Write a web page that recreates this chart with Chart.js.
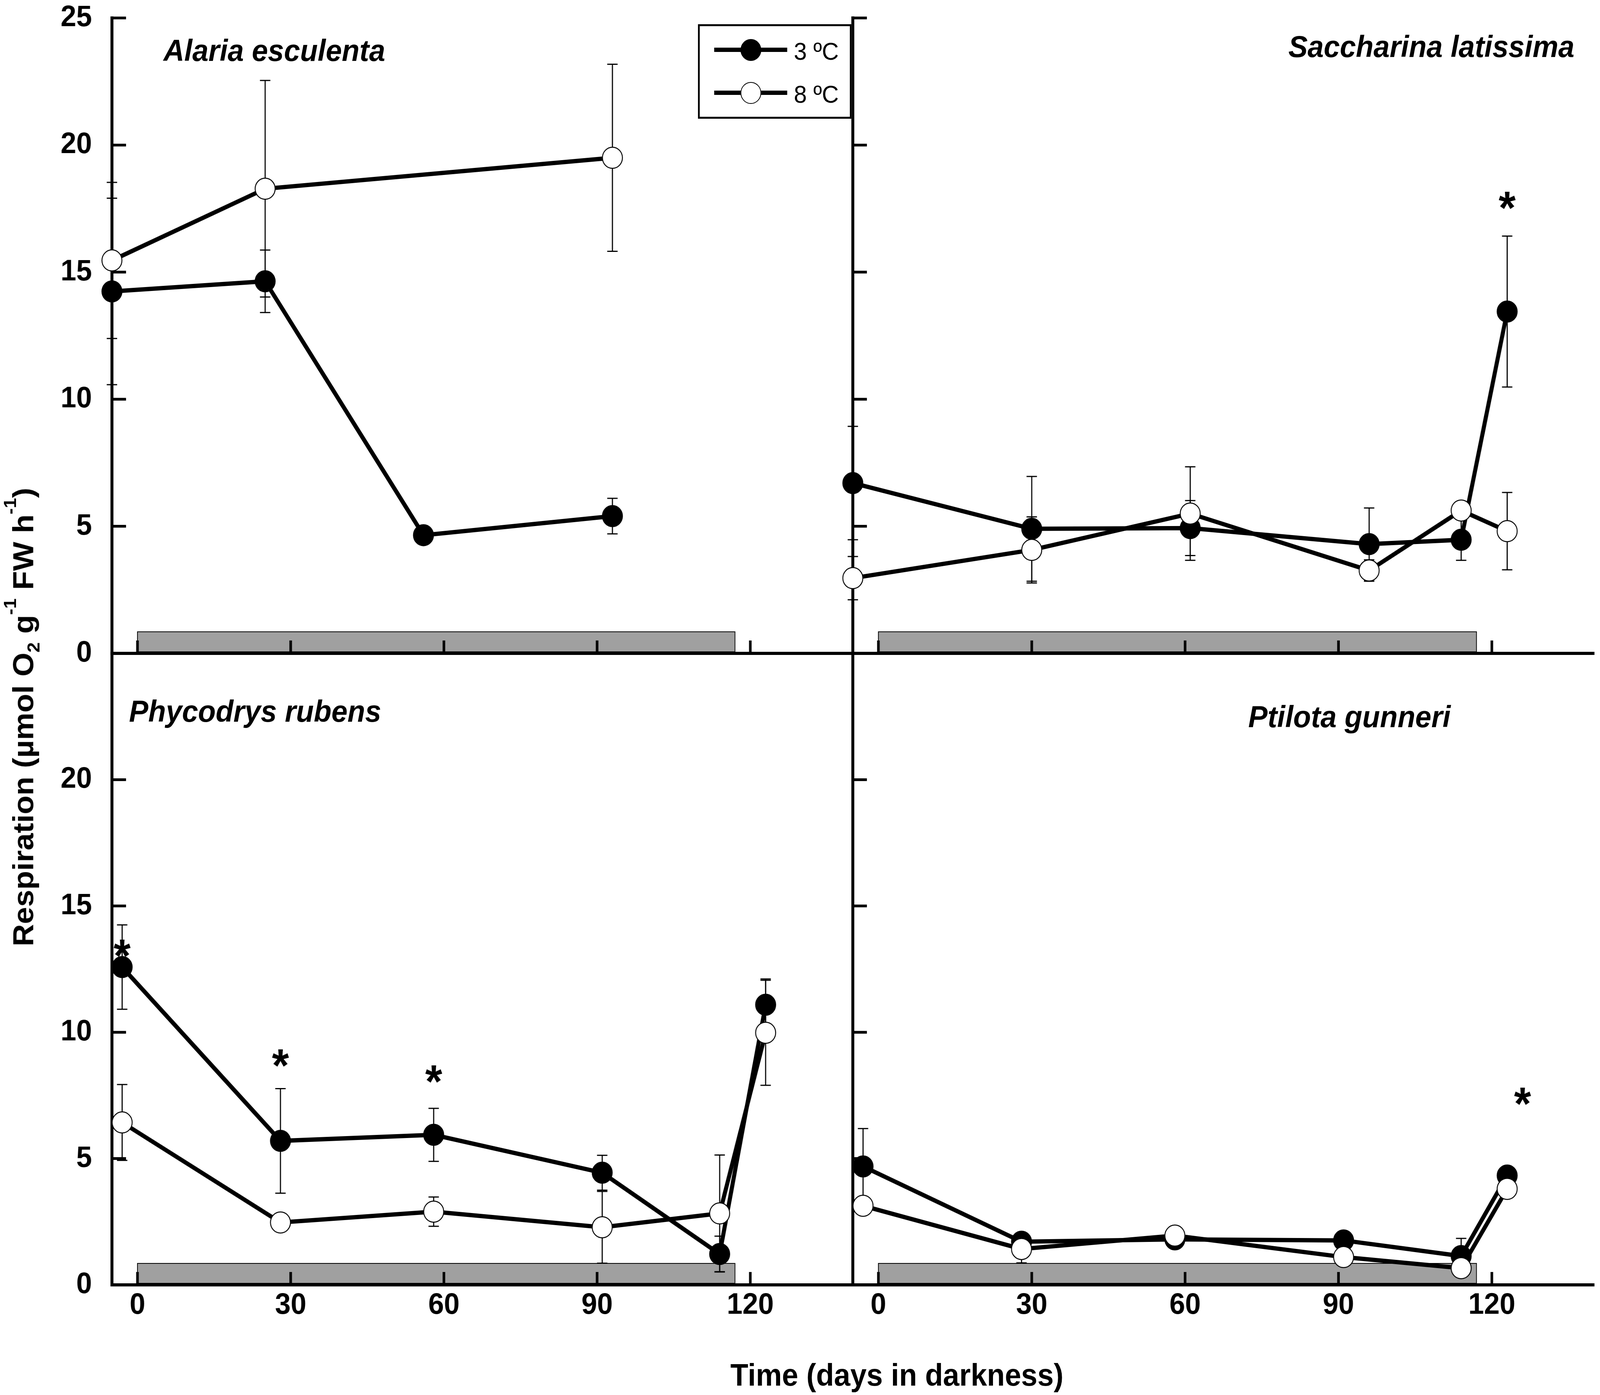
<!DOCTYPE html>
<html>
<head>
<meta charset="utf-8">
<script src="https://cdn.jsdelivr.net/npm/chart.js"></script>
<style>
  html, body { margin: 0; padding: 0; background: #fff; overflow: hidden; }
  #page { position: relative; width: 4317px; height: 3572px; overflow: hidden; transform-origin: 0 0;
          font-family: 'Liberation Sans', Arial, sans-serif; color: #000; }
  canvas { position: absolute; }
  .species { position: absolute; font-weight: bold; font-style: italic; font-size: 78px;
             line-height: 78px; white-space: nowrap; z-index: 3; }
  .axis-title { position: absolute; font-weight: bold; font-size: 79px; line-height: 79px;
                white-space: nowrap; z-index: 3; }
  .sup { font-size: 0.6em; position: relative; top: -1em; }
  .sub { font-size: 0.6em; position: relative; top: 0.35em; }
  #legend { position: absolute; left: 1883px; top: 62px; width: 415px; height: 242px;
            box-sizing: border-box; border: 5px solid #000; background: #fff; z-index: 4; }
  .lg-line { position: absolute; left: 39px; width: 197px; height: 11px; background: #000; }
  .lg-dot { position: absolute; left: 110px; width: 56px; height: 56px; box-sizing: border-box;
            border: 2.5px solid #000; border-radius: 50%; }
  .lg-text { position: absolute; left: 254px; font-size: 63px; line-height: 63px; white-space: nowrap; }
</style>
</head>
<body>
<div id="page">
  <canvas id="cAlaria" width="2340" height="1720" style="left:0px;top:0px;width:2340px;height:1720px"></canvas>
  <canvas id="cSacch" width="2057" height="1720" style="left:2260px;top:0px;width:2057px;height:1720px"></canvas>
  <canvas id="cPhyco" width="2340" height="1942" style="left:0px;top:1630px;width:2340px;height:1942px"></canvas>
  <canvas id="cPtilo" width="2057" height="1942" style="left:2260px;top:1630px;width:2057px;height:1942px"></canvas>

  <div class="species" style="left:441px;top:90px">Alaria esculenta</div>
  <div class="species" style="right:69px;top:80px">Saccharina latissima</div>
  <div class="species" style="left:348px;top:1782px">Phycodrys rubens</div>
  <div class="species" style="left:3368px;top:1796px">Ptilota gunneri</div>

  <div class="axis-title" style="left:68px;top:1836px;transform:translate(-50%,-50%) rotate(-90deg)">Respiration (µmol O<span class="sub">2</span> g<span class="sup">-1</span> FW h<span class="sup">-1</span>)</div>
  <div class="axis-title" style="left:2420px;top:3481px;transform:translateX(-50%)">Time (days in darkness)</div>

  <div id="legend">
    <div class="lg-line" style="top:55px"></div>
    <div class="lg-dot" style="top:33px;background:#000"></div>
    <div class="lg-text" style="top:33px">3 ºC</div>
    <div class="lg-line" style="top:165px"></div>
    <div class="lg-dot" style="top:143px;background:#fff"></div>
    <div class="lg-text" style="top:143px">8 ºC</div>
  </div>
</div>

<script>
// Respiration in darkness, four algae, two temperatures

// the page is laid out at 4317x3572; fit it to whatever viewport we get
const PAGE_W = 4317, PAGE_H = 3572;
const pageEl = document.getElementById("page");
pageEl.style.transform = `scale(${window.innerWidth / PAGE_W}, ${window.innerHeight / PAGE_H})`;

const X_MIN = -5, X_MAX = 140;
const Y_MIN = 0, Y_MAX = 25;
const X_TICKS = [0, 30, 60, 90, 120];
const Y_TICKS = [0, 5, 10, 15, 20, 25];

// grey bar = darkness period
const DARK_FROM = 0, DARK_TO = 117, DARK_TOP = 0.85;

// Alaria esculenta
const alariaDays3 = [-5, 25, 56, 93];
const alaria3 = [14.24, 14.64, 4.65, 5.4];
const alaria3Err = [3.67, 1.23, 0, 0.7];
const alariaDays8 = [-5, 25, 93];
const alaria8 = [15.46, 18.28, 19.5];
const alaria8Err = [3.07, 4.26, 3.68];
const alariaStars = [];

// Saccharina latissima
const sacchDays = [-5, 30, 61, 96, 114, 123];
const sacch3 = [6.70, 4.90, 4.93, 4.30, 4.47, 13.45];
const sacch3Err = [2.23, 2.06, 1.08, 1.42, 0.81, 2.97];
const sacch8 = [2.96, 4.07, 5.50, 3.26, 5.62, 4.81];
const sacch8Err = [0.85, 1.3, 1.84, 0.42, 0, 1.52];
const sacchStars = [[123, 17.95]];

// Phycodrys rubens
const phycoDays = [-3, 28, 58, 91, 114, 123];
const phyco3 = [12.58, 5.70, 5.94, 4.44, 1.22, 11.09];
const phyco3Err = [1.67, 2.07, 1.05, 0.69, 0.71, 1.02];
const phyco8 = [6.43, 2.47, 2.90, 2.28, 2.83, 9.98];
const phyco8Err = [1.5, 0, 0.58, 1.42, 2.31, 2.08];
const phycoStars = [[-3, 13.46], [28, 9.12], [58, 8.48]];

// Ptilota gunneri
const ptiloDays = [-3, 28, 58, 91, 114, 123];
const ptilo3 = [4.69, 1.71, 1.80, 1.76, 1.14, 4.33];
const ptilo3Err = [1.5, 0, 0, 0, 0.7, 0];
const ptilo8 = [3.13, 1.42, 1.95, 1.10, 0.66, 3.80];
const ptilo8Err = [0, 0.55, 0, 0, 0, 0];
const ptiloStars = [[126, 7.6]];

const FONT = "'Liberation Sans', Arial, sans-serif";
const AXIS_W = 8;

// dark bar, inward ticks, error bars (behind the markers), asterisks on top
const panelDecor = {
  id: "panelDecor",
  beforeDatasetsDraw(chart) {
    const { ctx, chartArea: a, scales: { x, y } } = chart;
    ctx.save();

    const bx0 = x.getPixelForValue(DARK_FROM);
    const bx1 = x.getPixelForValue(DARK_TO);
    const by0 = y.getPixelForValue(DARK_TOP);
    const by1 = y.getPixelForValue(0) - AXIS_W / 2;
    ctx.fillStyle = "#a0a0a0";
    ctx.fillRect(bx0, by0, bx1 - bx0, by1 - by0);
    ctx.strokeStyle = "#000";
    ctx.lineWidth = 2;
    ctx.strokeRect(bx0, by0, bx1 - bx0, by1 - by0);

    ctx.lineWidth = 7;
    ctx.beginPath();
    X_TICKS.forEach((v) => {
      const px = x.getPixelForValue(v);
      ctx.moveTo(px, a.bottom);
      ctx.lineTo(px, a.bottom - 33);
    });
    Y_TICKS.forEach((v) => {
      const py = y.getPixelForValue(v);
      ctx.moveTo(a.left, py);
      ctx.lineTo(a.left + 38, py);
    });
    ctx.stroke();

    ctx.lineWidth = 3;
    chart.data.datasets.forEach((ds) => {
      ds.data.forEach((p, i) => {
        const e = ds.errors[i];
        if (!e) return;
        const px = x.getPixelForValue(p.x);
        const top = y.getPixelForValue(p.y + e);
        const bot = y.getPixelForValue(p.y - e);
        ctx.beginPath();
        ctx.moveTo(px, top); ctx.lineTo(px, bot);
        ctx.moveTo(px - 14, top); ctx.lineTo(px + 14, top);
        ctx.moveTo(px - 14, bot); ctx.lineTo(px + 14, bot);
        ctx.stroke();
      });
    });
    ctx.restore();
  },
  afterDatasetsDraw(chart, args, opts) {
    const { ctx, scales: { x, y } } = chart;
    const size = 118;
    ctx.save();
    ctx.fillStyle = "#000";
    ctx.font = `bold ${size}px ${FONT}`;
    ctx.textAlign = "center";
    ctx.textBaseline = "alphabetic";
    (opts.stars || []).forEach(([sx, sy]) => {
      ctx.fillText("*", x.getPixelForValue(sx), y.getPixelForValue(sy) + 0.58 * size);
    });
    ctx.restore();
  }
};

function series(days, vals) {
  return days.map((d, i) => ({ x: d, y: vals[i] }));
}

function buildPanel(id, cfg) {
  const common = {
    showLine: true,
    borderColor: "#000",
    borderWidth: 11,
    pointRadius: 27,
    pointBorderColor: "#000",
    pointBorderWidth: 2.5,
    tension: 0,
    clip: false
  };
  const datasets = [
    Object.assign({}, common, {
      label: "3 ºC",
      data: series(cfg.days3, cfg.vals3),
      errors: cfg.err3,
      pointBackgroundColor: "#000",
      order: 1
    }),
    Object.assign({}, common, {
      label: "8 ºC",
      data: series(cfg.days8, cfg.vals8),
      errors: cfg.err8,
      pointBackgroundColor: "#fff",
      order: 0
    })
  ];

  const tickFont = { family: FONT, size: 76, weight: "bold" };

  return new Chart(document.getElementById(id), {
    type: "scatter",
    data: { datasets },
    options: {
      responsive: false,
      animation: false,
      devicePixelRatio: 1,
      events: [],
      layout: { padding: cfg.padding, autoPadding: false },
      plugins: {
        legend: { display: false },
        tooltip: { enabled: false },
        panelDecor: { stars: cfg.stars }
      },
      scales: {
        x: {
          type: "linear",
          min: X_MIN,
          max: X_MAX,
          afterBuildTicks: (s) => { s.ticks = X_TICKS.map((v) => ({ value: v })); },
          afterFit: (s) => { s.height = cfg.xHeight; s.paddingLeft = 0; s.paddingRight = 0; },
          grid: { display: false, drawTicks: false },
          border: { display: true, color: "#000", width: AXIS_W },
          ticks: {
            display: cfg.xLabels,
            padding: 7,
            color: "#000",
            font: tickFont,
            autoSkip: false,
            maxRotation: 0,
            minRotation: 0
          }
        },
        y: {
          type: "linear",
          min: Y_MIN,
          max: Y_MAX,
          afterBuildTicks: (s) => { s.ticks = Y_TICKS.map((v) => ({ value: v })); },
          afterFit: (s) => { s.width = cfg.yWidth; s.paddingTop = 0; s.paddingBottom = 0; },
          grid: { display: false, drawTicks: false },
          border: { display: true, color: "#000", width: AXIS_W },
          ticks: {
            display: cfg.yLabels,
            padding: 54,
            color: "#000",
            font: tickFont,
            callback: (v) => (cfg.hideTop && v === Y_MAX ? "" : String(v))
          }
        }
      }
    },
    plugins: [panelDecor]
  });
}

buildPanel("cAlaria", {
  days3: alariaDays3, vals3: alaria3, err3: alaria3Err,
  days8: alariaDays8, vals8: alaria8, err8: alaria8Err,
  stars: alariaStars,
  padding: { left: 0, top: 46, right: 40, bottom: 47 },
  yWidth: 302, xHeight: 0, xLabels: false, yLabels: true, hideTop: false
});

buildPanel("cSacch", {
  days3: sacchDays, vals3: sacch3, err3: sacch3Err,
  days8: sacchDays, vals8: sacch8, err8: sacch8Err,
  stars: sacchStars,
  padding: { left: 0, top: 46, right: 16, bottom: 47 },
  yWidth: 41, xHeight: 0, xLabels: false, yLabels: false, hideTop: false
});

buildPanel("cPhyco", {
  days3: phycoDays, vals3: phyco3, err3: phyco3Err,
  days8: phycoDays, vals8: phyco8, err8: phyco8Err,
  stars: phycoStars,
  padding: { left: 0, top: 43, right: 40, bottom: 0 },
  yWidth: 302, xHeight: 282, xLabels: true, yLabels: true, hideTop: true
});

buildPanel("cPtilo", {
  days3: ptiloDays, vals3: ptilo3, err3: ptilo3Err,
  days8: ptiloDays, vals8: ptilo8, err8: ptilo8Err,
  stars: ptiloStars,
  padding: { left: 0, top: 43, right: 16, bottom: 0 },
  yWidth: 41, xHeight: 282, xLabels: true, yLabels: false, hideTop: false
});
</script>
</body>
</html>
